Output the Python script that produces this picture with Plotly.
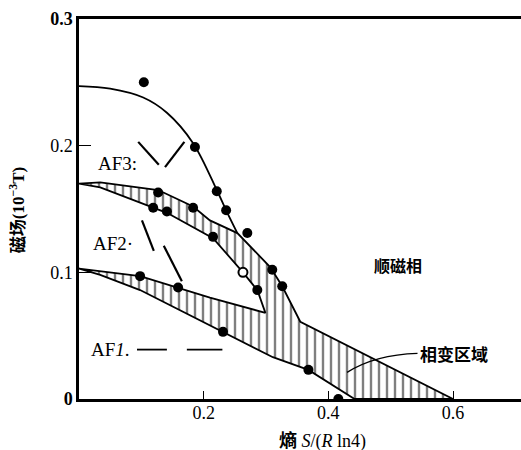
import plotly.graph_objects as go

# ---- data (entropy S/(R ln4), field 10^-3 T) ----
af3_x = [0.0, 0.05, 0.103, 0.141, 0.183, 0.221, 0.236, 0.254]
af3_y = [0.247, 0.245, 0.238, 0.226, 0.202, 0.165, 0.149, 0.131]

top_x = [0.0, 0.034, 0.127, 0.183, 0.21, 0.254, 0.307, 0.326, 0.355, 0.6]
top_y = [0.170, 0.171, 0.165, 0.152, 0.141, 0.131, 0.104, 0.089, 0.061, 0.0]

upper_inner_x = [0.0, 0.034, 0.141, 0.215, 0.263, 0.286, 0.299]
upper_inner_y = [0.170, 0.167, 0.147, 0.127, 0.100, 0.086, 0.068]

lower_inner_x = [0.0, 0.098, 0.159, 0.21, 0.299]
lower_inner_y = [0.103, 0.097, 0.088, 0.080, 0.068]

bottom_x = [0.0, 0.034, 0.098, 0.178, 0.231, 0.311, 0.368, 0.442]
bottom_y = [0.103, 0.098, 0.086, 0.066, 0.053, 0.033, 0.023, 0.0]

dots_x = [0.104, 0.186, 0.221, 0.236, 0.270, 0.127, 0.119, 0.141, 0.183, 0.215,
          0.310, 0.326, 0.286, 0.098, 0.159, 0.231, 0.368, 0.416]
dots_y = [0.250, 0.199, 0.164, 0.149, 0.131, 0.163, 0.151, 0.148, 0.151, 0.128,
          0.102, 0.089, 0.086, 0.097, 0.088, 0.053, 0.023, 0.000]
open_x = [0.263]
open_y = [0.100]

x_ticks = [0.2, 0.4, 0.6]
x_ticklabels = ["0.2", "0.4", "0.6"]
y_ticks = [0, 0.1, 0.2, 0.3]
y_ticklabels = ["<b>0</b>", "0.1", "0.2", "<b>0.3</b>"]

SERIF = "Liberation Serif, Noto Sans CJK SC, serif"
CJK = "Noto Sans CJK SC"

# hatched polygon: top edge -> axis -> bottom edge (reversed) -> lower inner -> upper inner (reversed)
poly_x = top_x + bottom_x[::-1] + lower_inner_x[1:] + upper_inner_x[::-1][1:]
poly_y = top_y + bottom_y[::-1] + lower_inner_y[1:] + upper_inner_y[::-1][1:]

fig = go.Figure()
fig.add_trace(go.Scatter(
    x=poly_x, y=poly_y, mode="lines", fill="toself",
    fillcolor="white",
    fillpattern=dict(shape="|", fgcolor="black", bgcolor="white", size=8, solidity=0.3),
    line=dict(color="black", width=1.8), hoverinfo="skip"))
fig.add_trace(go.Scatter(x=af3_x, y=af3_y, mode="lines",
                         line=dict(color="black", width=1.8, shape="spline")))
fig.add_trace(go.Scatter(x=dots_x, y=dots_y, mode="markers",
                         marker=dict(color="black", size=10)))
fig.add_trace(go.Scatter(x=open_x, y=open_y, mode="markers",
                         marker=dict(color="white", size=9, line=dict(color="black", width=2))))

# decorative strokes
strokes = [
    (0.095, 0.203, 0.128, 0.185),
    (0.169, 0.203, 0.138, 0.183),
    (0.101, 0.141, 0.120, 0.117),
    (0.136, 0.121, 0.165, 0.093),
]
for x0, y0, x1, y1 in strokes:
    fig.add_shape(type="line", x0=x0, y0=y0, x1=x1, y1=y1, xref="x", yref="y",
                  line=dict(color="black", width=2.2))
for x0, x1 in [(0.093, 0.141), (0.173, 0.230)]:
    fig.add_shape(type="line", x0=x0, y0=0.039, x1=x1, y1=0.039, xref="x", yref="y",
                  line=dict(color="black", width=1.8))
fig.add_shape(type="path", path="M 0.43,0.021 Q 0.475,0.035 0.543,0.036",
              xref="x", yref="y", line=dict(color="black", width=1.3))

ann = [
    dict(x=0.061, y=0.186, text="AF3:", font=dict(family=SERIF, size=19)),
    dict(x=0.055, y=0.123, text="AF2·", font=dict(family=SERIF, size=19)),
    dict(x=0.05, y=0.039, text="AF<i>1</i>.", font=dict(family=SERIF, size=19)),
    dict(x=0.512, y=0.106, text="<b>顺磁相</b>", font=dict(family=CJK, size=16)),
    dict(x=0.602, y=0.036, text="<b>相变区域</b>", font=dict(family=CJK, size=17)),
]
for a in ann:
    fig.add_annotation(xref="x", yref="y", showarrow=False, **a)

fig.add_annotation(xref="x", yref="paper", x=0.39, y=-0.113, showarrow=False,
                   xanchor="center", yanchor="middle",
                   text="<b>熵</b> <i>S</i>/(<i>R</i> ln4)",
                   font=dict(family=SERIF, size=18))
fig.add_annotation(xref="paper", yref="paper", x=-0.14, y=0.497, showarrow=False,
                   xanchor="center", yanchor="middle", textangle=-90,
                   text="<b>磁场(10<sup>−3</sup>T)</b>",
                   font=dict(family=SERIF, size=17))

fig.update_layout(
    width=521, height=450,
    margin=dict(l=79, r=0, t=19, b=51),
    paper_bgcolor="white", plot_bgcolor="white",
    showlegend=False,
    font=dict(family=SERIF, color="black", size=15),
    xaxis=dict(range=[0, 0.709], tickvals=x_ticks, ticktext=x_ticklabels,
               showgrid=False, zeroline=False, showline=True, linecolor="black",
               linewidth=2.5, mirror=True, ticks="inside", ticklen=8, tickwidth=1.3,
               tickcolor="black", ticklabelstandoff=-4,
               tickfont=dict(family=SERIF, size=18)),
    yaxis=dict(range=[0, 0.3], tickvals=y_ticks, ticktext=y_ticklabels,
               showgrid=False, zeroline=False, showline=True, linecolor="black",
               linewidth=2.5, mirror=False, ticks="inside", ticklen=12, tickwidth=1.3,
               tickcolor="black",
               tickfont=dict(family=SERIF, size=18)),
)

fig.write_html("out.html", post_script="document.body.style.margin='0';",
               config={"displayModeBar": False})
